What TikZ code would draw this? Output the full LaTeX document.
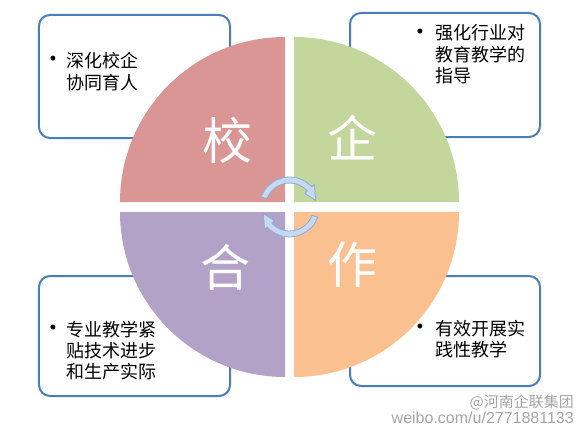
\documentclass[tikz,border=0pt]{standalone}
\usepackage{fontspec}
\setmainfont{Noto Sans CJK SC}
\newfontfamily\wmfont{Liberation Sans}
\definecolor{boxblue}{HTML}{4A7EBB}
\definecolor{qred}{HTML}{D99694}
\definecolor{qgreen}{HTML}{C3D69B}
\definecolor{qpurple}{HTML}{B3A2C7}
\definecolor{qorange}{HTML}{FAC090}
\definecolor{arrfill}{HTML}{C6D9F1}
\definecolor{arrdraw}{HTML}{8EAADB}
\begin{document}
\begin{tikzpicture}[x=1bp,y=1bp,
  box/.style={draw=boxblue, line width=2bp, rounded corners=11bp, fill=white, inner sep=0pt},
  bigchar/.style={text=white, font=\fontsize{50bp}{50bp}\selectfont, inner sep=0pt},
  bul/.style={font=\wmfont\fontsize{18bp}{22bp}\selectfont, inner sep=0pt},
  txt/.style={anchor=base west, inner sep=0pt},
  arrowband/.style={fill=arrfill, draw=arrdraw, line width=0.8bp, line join=round},
  wm/.style={text=gray!70, inner sep=0pt}]
\fill[white] (0,0) rectangle (579,431);
\useasboundingbox (0,0) rectangle (579,431);
% boxes
\node[box, minimum width=191bp, minimum height=123bp] (bTL) at (134.5,354.5) {};
\node[box, minimum width=190bp, minimum height=124bp] (bTR) at (445,356) {};
\node[box, minimum width=191bp, minimum height=120bp] (bBL) at (134.5,95) {};
\node[box, minimum width=190bp, minimum height=110bp] (bBR) at (445,100) {};
% quadrants
\fill[qred] (285,229) -- ++(0,165) arc[start angle=90,end angle=180,radius=165] -- cycle;
\fill[qgreen] (294,229) -- ++(165,0) arc[start angle=0,end angle=90,radius=165] -- cycle;
\fill[qpurple] (285,219) -- ++(-165,0) arc[start angle=180,end angle=270,radius=165] -- cycle;
\fill[qorange] (294,219) -- ++(0,-165) arc[start angle=270,end angle=360,radius=165] -- cycle;
% big characters
\node[bigchar] (cx) at (227,291) {校};
\node[bigchar] (cq) at (352,293) {企};
\node[bigchar] (ch) at (225,164) {合};
\node[bigchar] (cz) at (352,166) {作};
% circular arrows
\begin{scope}[shift={(289.5,224)}]
\path[arrowband] (160:30) arc[start angle=160,end angle=42,radius=30] -- (42:33.5) -- (14:27) -- (42:20.5) -- (42:24) arc[start angle=42,end angle=160,radius=24] -- cycle;
\path[arrowband, rotate=180] (160:30) arc[start angle=160,end angle=42,radius=30] -- (42:33.5) -- (14:27) -- (42:20.5) -- (42:24) arc[start angle=42,end angle=160,radius=24] -- cycle;
\end{scope}
% texts
\node[bul] (pTL) at (53,371) {•};
\node[txt, font=\fontsize{18bp}{22bp}\selectfont] (tTL) at (66,364) {\begin{tabular}[t]{@{}l@{}}深化校企\\协同育人\end{tabular}};
\node[bul] (pTR) at (420,398) {•};
\node[txt, font=\fontsize{18bp}{20.5bp}\selectfont] (tTR) at (435,391) {\begin{tabular}[t]{@{}l@{}}强化行业对\\教育教学的\\指导\end{tabular}};
\node[bul] (pBL) at (53,102) {•};
\node[txt, font=\fontsize{18bp}{20.5bp}\selectfont] (tBL) at (66,95) {\begin{tabular}[t]{@{}l@{}}专业教学紧\\贴技术进步\\和生产实际\end{tabular}};
\node[bul] (pBR) at (420,103) {•};
\node[txt, font=\fontsize{18bp}{21bp}\selectfont] (tBR) at (435,96) {\begin{tabular}[t]{@{}l@{}}有效开展实\\践性教学\end{tabular}};
% watermark
\node[wm, anchor=east, font=\fontsize{15bp}{15bp}\selectfont] (wm1) at (574,29) {@河南企联集团};
\node[wm, anchor=east, font=\wmfont\fontsize{16bp}{16bp}\selectfont] (wm2) at (574,13) {weibo.com/u/2771881133};
\end{tikzpicture}
\end{document}
